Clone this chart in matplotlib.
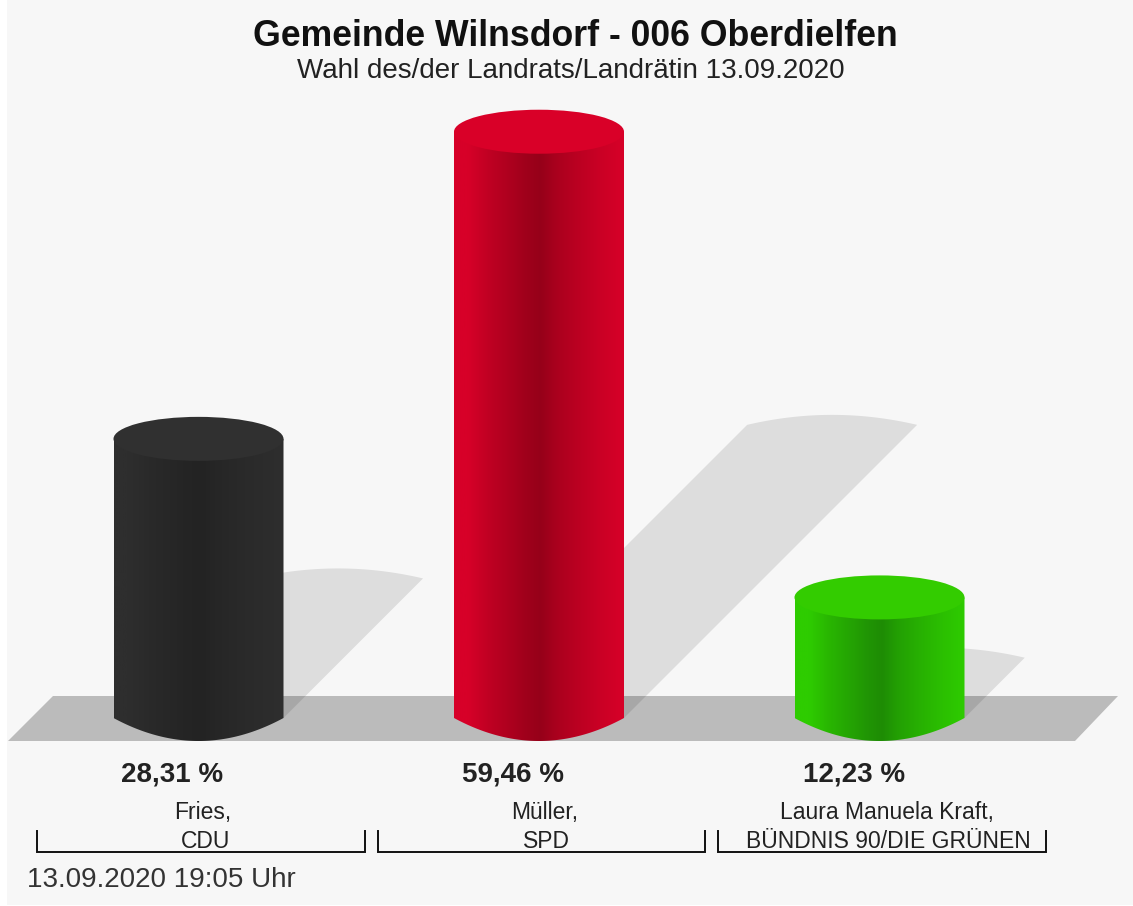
import numpy as np
import matplotlib
import matplotlib.pyplot as plt
from matplotlib.colors import LinearSegmentedColormap, to_rgb
from matplotlib.patches import Ellipse, Polygon, Rectangle

matplotlib.use('Agg')

title = 'Gemeinde Wilnsdorf - 006 Oberdielfen'
subtitle = 'Wahl des/der Landrats/Landrätin 13.09.2020'
timestamp = '13.09.2020 19:05 Uhr'

candidates = ['Fries,', 'Müller,', 'Laura Manuela Kraft,']
parties = ['CDU', 'SPD', 'BÜNDNIS 90/DIE GRÜNEN']
percents = [28.31, 59.46, 12.23]
labels = ['28,31 %', '59,46 %', '12,23 %']

bar_colors = ['#2e2e2e', '#d70028', '#2ecc00']
dark_colors = ['#232323', '#960019', '#1e8c05']
top_colors = ['#303030', '#d90028', '#33cc00']

W, H = 1133, 906
PX_PER_PCT = 9.86
BASE_Y = 718
CENTER_0 = 198.5
STEP = 340.5
HALF_W = 85

plt.rcParams['font.family'] = ['Liberation Sans', 'DejaVu Sans']
fig = plt.figure(figsize=(W / 100, H / 100), dpi=100, facecolor='white')

# pixel layer for background, floor and text
bg = fig.add_axes([0, 0, 1, 1], zorder=0)
bg.set_xlim(0, W)
bg.set_ylim(H, 0)
bg.axis('off')
bg.add_patch(Rectangle((7, 0), W - 7, 905, color='#f7f7f7', lw=0))
bg.add_patch(Polygon([(8, 741), (53, 696), (1118, 696), (1075, 741)], color='#bbbbbb', lw=0))

# data layer: x = category index, y = percent
ax = fig.add_axes([0, 0, 1, 1], zorder=1)
ax.patch.set_alpha(0)
ax.axis('off')
xlim = ((0 - CENTER_0) / STEP, (W - CENTER_0) / STEP)
ylim = ((BASE_Y - H) / PX_PER_PCT, BASE_Y / PX_PER_PCT)

hw = HALF_W / STEP
ell_h = 22 / PX_PER_PCT
stops = [0, .08, .2, .42, .51, .6, .72, .86, 1]
shade = [0, 0, .35, .85, 1, .7, .45, .2, 0]

for i, (pct, c, d, t) in enumerate(zip(percents, bar_colors, dark_colors, top_colors)):
    # shadow leans up and right by half the bar height
    off_x = pct * PX_PER_PCT / 2 / STEP
    off_y = pct / 2
    arc = np.linspace(-1, 1, 60)
    arc_x = i + off_x + hw * arc
    arc_y = off_y + 10 / PX_PER_PCT * (1 - arc ** 2)
    pts = [(i - hw, 0)] + list(zip(arc_x, arc_y)) + [(i + hw, 0)]
    ax.add_patch(Polygon(pts, color='black', alpha=0.1, lw=0, zorder=1))

    # cylinder body with horizontal gradient
    tt = np.linspace(-1, 1, 80)
    low = -23 / PX_PER_PCT * (1 - tt ** 2)
    upper = pct + np.zeros_like(tt)
    body = list(zip(i + hw * tt, low)) + list(zip(i + hw * tt[::-1], upper[::-1]))
    clip = Polygon(body, transform=ax.transData, fc='none', lw=0)
    ax.add_patch(clip)
    rgb_c, rgb_d = np.array(to_rgb(c)), np.array(to_rgb(d))
    cmap = LinearSegmentedColormap.from_list(
        'bar', [(s, tuple(rgb_c * (1 - k) + rgb_d * k)) for s, k in zip(stops, shade)])
    im = ax.imshow(np.linspace(0, 1, 256).reshape(1, -1), cmap=cmap, aspect='auto',
                   extent=(i - hw, i + hw, -30 / PX_PER_PCT, pct + 2 * ell_h), zorder=2)
    im.set_clip_path(clip)

    ax.add_patch(Ellipse((i, pct), 2 * hw, 2 * ell_h, color=t, lw=0, zorder=3))

ax.set_xlim(xlim)
ax.set_ylim(ylim)

# text layer
txt = fig.add_axes([0, 0, 1, 1], zorder=2)
txt.patch.set_alpha(0)
txt.set_xlim(0, W)
txt.set_ylim(H, 0)
txt.axis('off')

txt.text(575, 37, title, fontsize=25.7, fontweight='bold', ha='center', va='center', color='#111111')
txt.text(571, 71, subtitle, fontsize=20, ha='center', va='center', color='#222222')

label_x = [172, 513, 854]
name_x = [203, 545, 887]
party_x = [206, 546, 888]
bracket_l = [37, 378, 718]
bracket_r = [365, 705, 1046]
for i in range(3):
    txt.text(label_x[i], 774, labels[i], fontsize=20, fontweight='bold', ha='center', va='center', color='#222222')
    txt.text(name_x[i], 812, candidates[i], fontsize=16.5, ha='center', va='center', color='#222222')
    txt.text(party_x[i], 841, parties[i], fontsize=16.5, ha='center', va='center', color='#222222')
    txt.plot([bracket_l[i], bracket_l[i], bracket_r[i], bracket_r[i]], [831, 852, 852, 831], color='#111111', lw=1.4, solid_joinstyle='miter')

txt.text(27, 880, timestamp, fontsize=20, ha='left', va='center', color='#333333')

fig.savefig('out.png', dpi=100)
plt.close(fig)
